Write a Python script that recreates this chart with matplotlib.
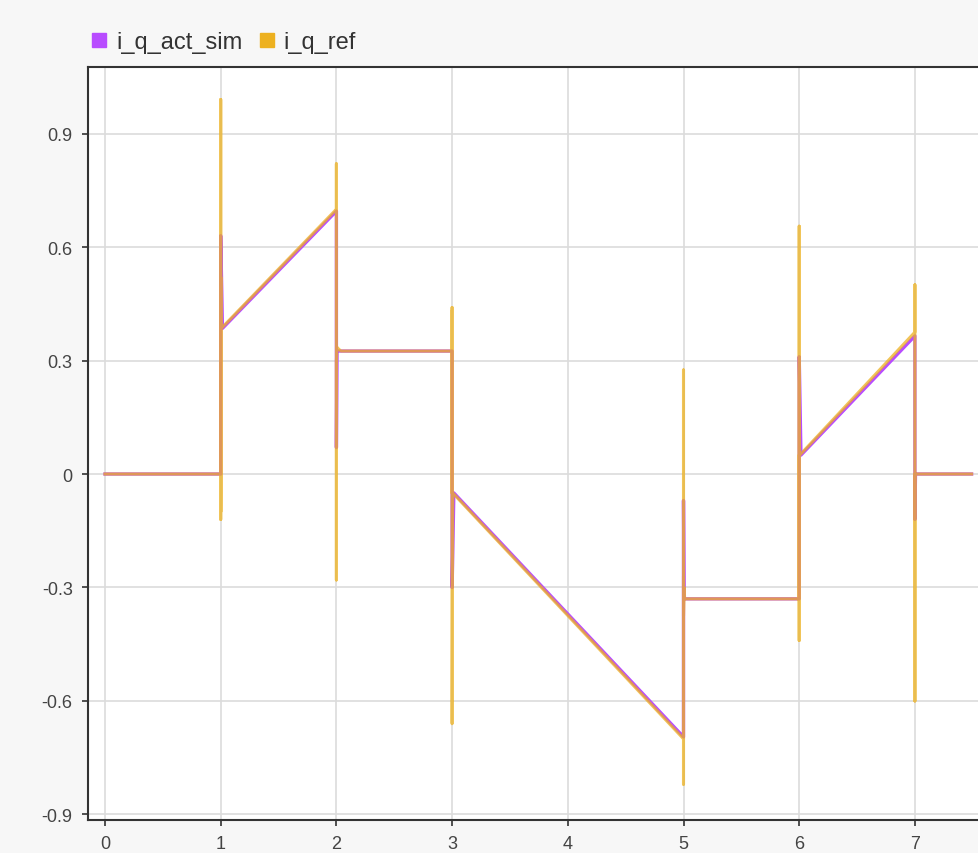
import matplotlib
matplotlib.use("Agg")
from matplotlib import pyplot as plt
from matplotlib.lines import Line2D

# i_q_act_sim (purple), lags the reference slightly on the ramps
T_ACT = [0.0, 1.0, 1.0, 1.015, 2.0, 2.0, 2.005, 3.0, 3.0, 3.015,
         5.0, 5.0, 5.005, 6.0, 6.0, 6.015, 7.0, 7.0, 7.005, 7.49]
V_ACT = [0.0, 0.0, 0.63, 0.385, 0.695, 0.07, 0.325, 0.325, -0.30, -0.05,
         -0.695, -0.07, -0.33, -0.33, 0.31, 0.05, 0.365, -0.12, 0.0, 0.0]

# i_q_ref (orange)
T_REF = [0.0, 1.0, 1.0, 1.0, 1.0, 1.0, 1.005,
         2.0, 2.0, 2.0, 2.0, 2.005, 2.02, 2.04,
         3.0, 3.0, 3.0, 3.0, 3.0, 3.005,
         5.0, 5.0, 5.0, 5.0, 5.0, 5.005, 5.01,
         6.0, 6.0, 6.0, 6.0, 6.005,
         7.0, 7.0, 7.0, 7.0, 7.0, 7.005, 7.49]
V_REF = [0.0, 0.0, 0.99, -0.12, 0.52, -0.10, 0.385,
         0.70, 0.82, -0.28, 0.30, 0.335, 0.33, 0.325,
         0.325, 0.44, -0.05, 0.43, -0.66, -0.05,
         -0.70, 0.275, -0.82, -0.27, -0.375, -0.30, -0.33,
         -0.33, 0.655, -0.44, 0.05, 0.05,
         0.375, 0.50, -0.60, -0.285, 0.0, 0.0, 0.0]

X_TICKS = [0, 1, 2, 3, 4, 5, 6, 7]
Y_TICKS = [-0.9, -0.6, -0.3, 0, 0.3, 0.6, 0.9]
Y_LABELS = ["-0.9", "-0.6", "-0.3", "0", "0.3", "0.6", "0.9"]

PURPLE = "#b84cff"
ORANGE = "#edb120"

plt.rcParams["font.family"] = ["Liberation Sans", "DejaVu Sans"]

fig = plt.figure(figsize=(9.79, 8.54), dpi=100)
fig.patch.set_facecolor("#f7f7f7")

ax = fig.add_axes([88/979, 33/854, 1 - 88/979, (821 - 68)/854])
ax.set_facecolor("white")

ax.plot(T_ACT, V_ACT, color=PURPLE, lw=2.4, zorder=3)
ax.plot(T_REF, V_REF, color=ORANGE, lw=2.2, alpha=0.75, zorder=4)

ax.set_xlim(-0.147, 7.554)
ax.set_ylim(-0.9146, 1.0759)
ax.set_xticks(X_TICKS)
ax.set_yticks(Y_TICKS)
ax.set_yticklabels(Y_LABELS)

ax.grid(True, color="#dcdcdc", lw=1.2, zorder=0)
ax.set_axisbelow(True)
for side in ["left", "bottom", "top"]:
    ax.spines[side].set_color("#333333")
    ax.spines[side].set_linewidth(1.5)
ax.spines["right"].set_visible(False)
ax.tick_params(direction="out", length=4, width=1.2, color="#333333",
               labelsize=13, labelcolor="#444444", pad=7)

handles = [
    Line2D([], [], ls="none", marker="s", markersize=10, color=PURPLE),
    Line2D([], [], ls="none", marker="s", markersize=10, color=ORANGE),
]
fig.legend(handles, ["i_q_act_sim", "i_q_ref"], loc="center left",
           bbox_to_anchor=(64/979, 1 - 43/854), ncol=2, frameon=False,
           fontsize=17, handletextpad=0.1, columnspacing=0.45,
           handlelength=1.2, labelcolor="#333333")

fig.savefig("out.png", dpi=100, facecolor=fig.get_facecolor())
